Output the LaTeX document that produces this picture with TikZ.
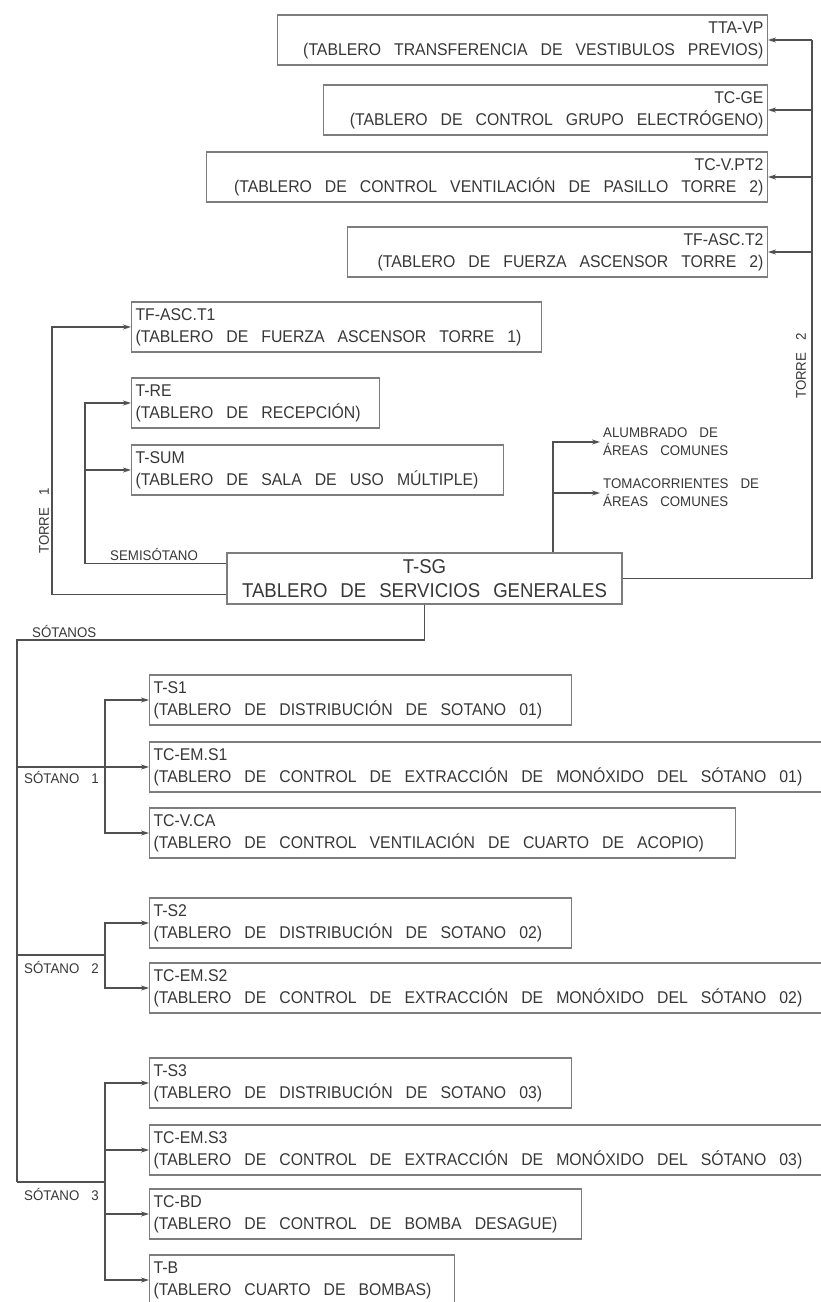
\documentclass[tikz,border=0pt]{standalone}
\usepackage{fontspec}
\usepackage{xcolor}
\usepackage{tikz}
\usetikzlibrary{arrows.meta}
\newfontfamily\cadfont{Liberation Sans}[FakeStretch=0.93]
\newfontfamily\cadfontlbl{Liberation Sans}[FakeStretch=0.95]
\definecolor{lineacolor}{RGB}{80,80,80}
\definecolor{cajacolor}{RGB}{125,125,125}
\definecolor{textocolor}{RGB}{55,55,55}
\newcommand\cadbox{\cadfont\fontsize{17}{22}\selectfont}
\newcommand\cadsg{\cadfont\fontsize{20}{24}\selectfont\spaceskip=15pt\relax}
\newcommand\cadlbl{\cadfontlbl\fontsize{14}{18}\selectfont\spaceskip=12pt\relax}
\tikzset{
  tablero/.style={
    draw=cajacolor,
    line width=1.1pt,
    rectangle,
    minimum height=50pt,
    inner xsep=4pt,
    inner ysep=0pt,
    font=\cadbox,
    text=textocolor,
    execute at begin node={\spaceskip=13pt\relax}
  },
  tab izq/.style={
    tablero,
    anchor=west,
    align=left
  },
  tab der/.style={
    tablero,
    anchor=east,
    align=right
  },
  etiqueta/.style={
    inner sep=3pt,
    font=\cadlbl,
    text=textocolor,
    align=left
  },
  linea/.style={
    draw=lineacolor,
    line width=1.4pt
  },
  flecha/.style={
    linea,
    -{Stealth[length=8pt,width=5pt]}
  }
}

\begin{document}
\begin{tikzpicture}[x=1pt,y=-1pt]
  \useasboundingbox (0,0) rectangle (820,1302);
  % Torre 2
  \node[tab der, text width=482pt] (ttavp) at (768,40) {TTA-VP\\(TABLERO TRANSFERENCIA DE VESTIBULOS PREVIOS)};
  \node[tab der, text width=436pt] (tcge) at (768,110) {TC-GE\\(TABLERO DE CONTROL GRUPO ELECTRÓGENO)};
  \node[tab der, text width=553pt] (tcvpt2) at (768,177) {TC-V.PT2\\(TABLERO DE CONTROL VENTILACIÓN DE PASILLO TORRE 2)};
  \node[tab der, text width=412pt] (tfasct2) at (768,252) {TF-ASC.T2\\(TABLERO DE FUERZA ASCENSOR TORRE 2)};

  % Torre 1 y semisotano
  \node[tab izq, text width=402pt] (tfasct1) at (131,327) {TF-ASC.T1\\(TABLERO DE FUERZA ASCENSOR TORRE 1)};
  \node[tab izq, text width=240pt] (tre) at (131,403) {T-RE\\(TABLERO DE RECEPCIÓN)};
  \node[tab izq, text width=364pt] (tsum) at (131,470) {T-SUM\\(TABLERO DE SALA DE USO MÚLTIPLE)};

  \node[etiqueta] (alum) at (600,442) [anchor=west] {ALUMBRADO DE\\ÁREAS COMUNES};
  \node[etiqueta] (toma) at (600,493) [anchor=west] {TOMACORRIENTES DE\\ÁREAS COMUNES};

  % Tablero general
  \node[tablero, minimum width=395pt, minimum height=51pt, align=center, font=\cadsg, execute at begin node={}] (tsg) at (424.5,578.5) {T-SG\\TABLERO DE SERVICIOS GENERALES};

  % Sotanos
  \node[tab izq, text width=414pt] (ts1) at (149,700) {T-S1\\(TABLERO DE DISTRIBUCIÓN DE SOTANO 01)};
  \node[tab izq, text width=680pt] (tcems1) at (149,767) {TC-EM.S1\\(TABLERO DE CONTROL DE EXTRACCIÓN DE MONÓXIDO DEL SÓTANO 01)};
  \node[tab izq, text width=578pt] (tcvca) at (149,833) {TC-V.CA\\(TABLERO DE CONTROL VENTILACIÓN DE CUARTO DE ACOPIO)};
  \node[tab izq, text width=414pt] (ts2) at (149,923) {T-S2\\(TABLERO DE DISTRIBUCIÓN DE SOTANO 02)};
  \node[tab izq, text width=680pt] (tcems2) at (149,988) {TC-EM.S2\\(TABLERO DE CONTROL DE EXTRACCIÓN DE MONÓXIDO DEL SÓTANO 02)};
  \node[tab izq, text width=414pt] (ts3) at (149,1083) {T-S3\\(TABLERO DE DISTRIBUCIÓN DE SOTANO 03)};
  \node[tab izq, text width=680pt] (tcems3) at (149,1150) {TC-EM.S3\\(TABLERO DE CONTROL DE EXTRACCIÓN DE MONÓXIDO DEL SÓTANO 03)};
  \node[tab izq, text width=424pt] (tcbd) at (149,1214) {TC-BD\\(TABLERO DE CONTROL DE BOMBA DESAGUE)};
  \node[tab izq, text width=297pt] (tb) at (149,1280) {T-B\\(TABLERO CUARTO DE BOMBAS)};

  % etiquetas de ramales
  \node[etiqueta, rotate=90] (lbtorre2) at (801,366) {TORRE 2};
  \node[etiqueta, rotate=90] (lbtorre1) at (44,521) {TORRE 1};
  \node[etiqueta, anchor=base west] (lbsemi) at (107,560) {SEMISÓTANO};
  \node[etiqueta, anchor=base west] (lbsot) at (29,637) {SÓTANOS};
  \node[etiqueta, anchor=base west] (lbs1) at (21,783) {SÓTANO 1};
  \node[etiqueta, anchor=base west] (lbs2) at (21,973) {SÓTANO 2};
  \node[etiqueta, anchor=base west] (lbs3) at (21,1200) {SÓTANO 3};

  \coordinate (bus2) at (812,40);
  \coordinate (bus1) at (52,327);
  \coordinate (bsemi) at (85,563.5);
  \coordinate (balum) at (553,442);
  \coordinate (bsot) at (17,640);
  \coordinate (s1) at (17,767);
  \coordinate (r1) at (105,767);
  \coordinate (s2) at (17,955);
  \coordinate (r2) at (105,955);
  \coordinate (s3) at (17,1182);
  \coordinate (r3) at (105,1182);

  % conexiones
  \draw[linea] (tsg.east) -| (bus2);
  \foreach \t in {ttavp,tcge,tcvpt2,tfasct2}
    \draw[flecha] (bus2 |- \t.east) -- (\t.east);
  \draw[flecha] ([yshift=-16pt]tsg.west) -| (bus1) -- (tfasct1.west);
  \draw[linea] ([yshift=15pt]tsg.west) -- (bsemi);
  \draw[flecha] (bsemi) |- (tre.west);
  \draw[flecha] (bsemi |- tsum.west) -- (tsum.west);
  \draw[flecha] (tsg.north -| balum) |- (alum.west);
  \draw[flecha] (balum |- toma.west) -- (toma.west);

  \draw[linea] (tsg.south) |- (bsot) -- (s3);
  \draw[linea] (s1) -- (r1);
  \draw[linea] (s2) -- (r2);
  \draw[linea] (s3) -- (r3);
  \foreach \t in {ts1,tcems1,tcvca}
    \draw[flecha] (r1) |- (\t.west);
  \foreach \t in {ts2,tcems2}
    \draw[flecha] (r2) |- (\t.west);
  \foreach \t in {ts3,tcems3,tcbd,tb}
    \draw[flecha] (r3) |- (\t.west);
\end{tikzpicture}
\end{document}
